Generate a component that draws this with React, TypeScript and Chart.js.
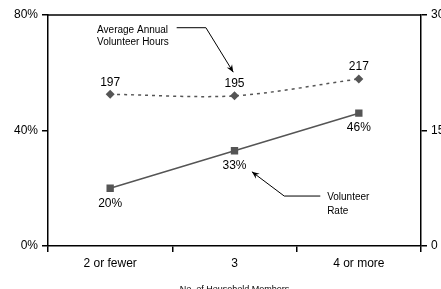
import React, { useEffect, useRef } from "react";
import { Chart, registerables } from "chart.js";

Chart.register(...registerables);

const categories = ["2 or fewer", "3", "4 or more"];
const volunteerRate = [20, 33, 46];
const volunteerHours = [197, 195, 217];
const rateTicks = [0, 40, 80];
const hoursTicks = [0, 150, 300];
const xTitle = "No. of Household Members";
const hoursNote = ["Average Annual", "Volunteer Hours"];
const rateNote = ["Volunteer", "Rate"];

const FONT = "'Liberation Sans', Arial, sans-serif";
const GRAY = "#555555";

// annotation anchors expressed in data units (category index, left-axis %)
const hoursNoteAt = { x: -0.105, y: [74.8, 70.6] };
const hoursArrow = [
  { x: 0.535, y: 75.6 },
  { x: 0.77, y: 75.6 },
  { x: 0.99, y: 60.2 },
];
const rateNoteAt = { x: 1.745, y: [16.9, 12.0] };
const rateArrow = [
  { x: 1.69, y: 17.3 },
  { x: 1.4, y: 17.3 },
  { x: 1.14, y: 25.7 },
];

const overlay = {
  id: "overlay",
  afterDatasetsDraw(chart: any) {
    const { ctx, chartArea, scales } = chart;
    const x = scales.x;
    const y = scales.y;
    ctx.save();
    // top border
    ctx.strokeStyle = "#000";
    ctx.lineWidth = 1.5;
    ctx.beginPath();
    ctx.moveTo(chartArea.left, chartArea.top);
    ctx.lineTo(chartArea.right, chartArea.top);
    ctx.stroke();

    // data labels
    ctx.fillStyle = "#000";
    ctx.font = `12px ${FONT}`;
    ctx.textAlign = "center";
    ctx.textBaseline = "middle";
    const m1 = chart.getDatasetMeta(1);
    m1.data.forEach((p: any, i: number) => {
      ctx.fillText(String(volunteerHours[i]), p.x, p.y - 12);
    });
    const m0 = chart.getDatasetMeta(0);
    m0.data.forEach((p: any, i: number) => {
      ctx.fillText(volunteerRate[i] + "%", p.x, p.y + 15);
    });

    // annotations
    ctx.font = `10px ${FONT}`;
    ctx.textAlign = "left";
    hoursNote.forEach((t, i) =>
      ctx.fillText(t, x.getPixelForValue(hoursNoteAt.x), y.getPixelForValue(hoursNoteAt.y[i]))
    );
    rateNote.forEach((t, i) =>
      ctx.fillText(t, x.getPixelForValue(rateNoteAt.x), y.getPixelForValue(rateNoteAt.y[i]))
    );
    const drawArrow = (pts: { x: number; y: number }[]) => {
      const px = pts.map((p) => ({ x: x.getPixelForValue(p.x), y: y.getPixelForValue(p.y) }));
      ctx.strokeStyle = "#000";
      ctx.lineWidth = 1;
      ctx.beginPath();
      ctx.moveTo(px[0].x, px[0].y);
      for (let i = 1; i < px.length; i++) ctx.lineTo(px[i].x, px[i].y);
      ctx.stroke();
      const a = px[px.length - 2];
      const b = px[px.length - 1];
      const ang = Math.atan2(b.y - a.y, b.x - a.x);
      const L = 8;
      const W = 0.4;
      ctx.fillStyle = "#000";
      ctx.beginPath();
      ctx.moveTo(b.x, b.y);
      ctx.lineTo(b.x - L * Math.cos(ang - W), b.y - L * Math.sin(ang - W));
      ctx.lineTo(b.x - L * 0.6 * Math.cos(ang), b.y - L * 0.6 * Math.sin(ang));
      ctx.lineTo(b.x - L * Math.cos(ang + W), b.y - L * Math.sin(ang + W));
      ctx.closePath();
      ctx.fill();
    };
    drawArrow(hoursArrow);
    drawArrow(rateArrow);
    ctx.restore();
  },
};

export default function App() {
  const ref = useRef<HTMLCanvasElement>(null);
  useEffect(() => {
    if (!ref.current) return;
    const chart = new Chart(ref.current, {
      type: "line",
      data: {
        labels: categories,
        datasets: [
          {
            label: "Volunteer Rate",
            data: volunteerRate,
            yAxisID: "y",
            borderColor: GRAY,
            backgroundColor: GRAY,
            borderWidth: 1.5,
            pointStyle: "rect",
            pointRadius: 5.2,
            pointBorderWidth: 0,
            tension: 0,
          },
          {
            label: "Average Annual Volunteer Hours",
            data: volunteerHours,
            yAxisID: "y1",
            borderColor: GRAY,
            backgroundColor: GRAY,
            borderWidth: 1.5,
            borderDash: [3, 4],
            pointStyle: "rectRot",
            pointRadius: 4.5,
            pointBorderWidth: 0,
            tension: 0.3,
          },
        ],
      },
      options: {
        responsive: false,
        animation: false,
        events: [],
        layout: { padding: { top: 15, left: 0, right: 0, bottom: 0 } },
        plugins: { legend: { display: false }, tooltip: { enabled: false } },
        scales: {
          x: {
            offset: true,
            grid: {
              offset: true,
              drawOnChartArea: false,
              tickLength: 6,
              color: "#000",
              lineWidth: 1.5,
            },
            border: { color: "#000", width: 1.5 },
            ticks: { color: "#000", font: { family: FONT, size: 12 }, padding: 4 },
            title: {
              display: true,
              text: xTitle,
              color: "#000",
              font: { family: FONT, size: 9 },
              padding: { top: 10, bottom: 0 },
            },
            afterFit(s: any) {
              s.height = 49;
            },
          },
          y: {
            position: "left",
            min: 0,
            max: 80,
            afterBuildTicks(s: any) {
              s.ticks = rateTicks.map((v) => ({ value: v }));
            },
            grid: { drawOnChartArea: false, tickLength: 6, color: "#000", lineWidth: 1.5 },
            border: { color: "#000", width: 1.5 },
            ticks: {
              color: "#000",
              font: { family: FONT, size: 12 },
              padding: 4,
              callback: (v: any) => v + "%",
            },
            afterFit(s: any) {
              s.width = 48;
            },
          },
          y1: {
            position: "right",
            min: 0,
            max: 300,
            afterBuildTicks(s: any) {
              s.ticks = hoursTicks.map((v) => ({ value: v }));
            },
            grid: { drawOnChartArea: false, tickLength: 6, color: "#000", lineWidth: 1.5 },
            border: { color: "#000", width: 1.5 },
            ticks: { color: "#000", font: { family: FONT, size: 12 }, padding: 4 },
            afterFit(s: any) {
              s.width = 59;
            },
          },
        },
      },
      plugins: [overlay],
    });
    return () => chart.destroy();
  }, []);
  return (
    <div
      style={{
        position: "fixed",
        left: 0,
        top: 0,
        width: 441,
        height: 289,
        overflow: "hidden",
        background: "#fff",
      }}
    >
      <canvas ref={ref} width={480} height={295} style={{ display: "block" }} />
    </div>
  );
}
